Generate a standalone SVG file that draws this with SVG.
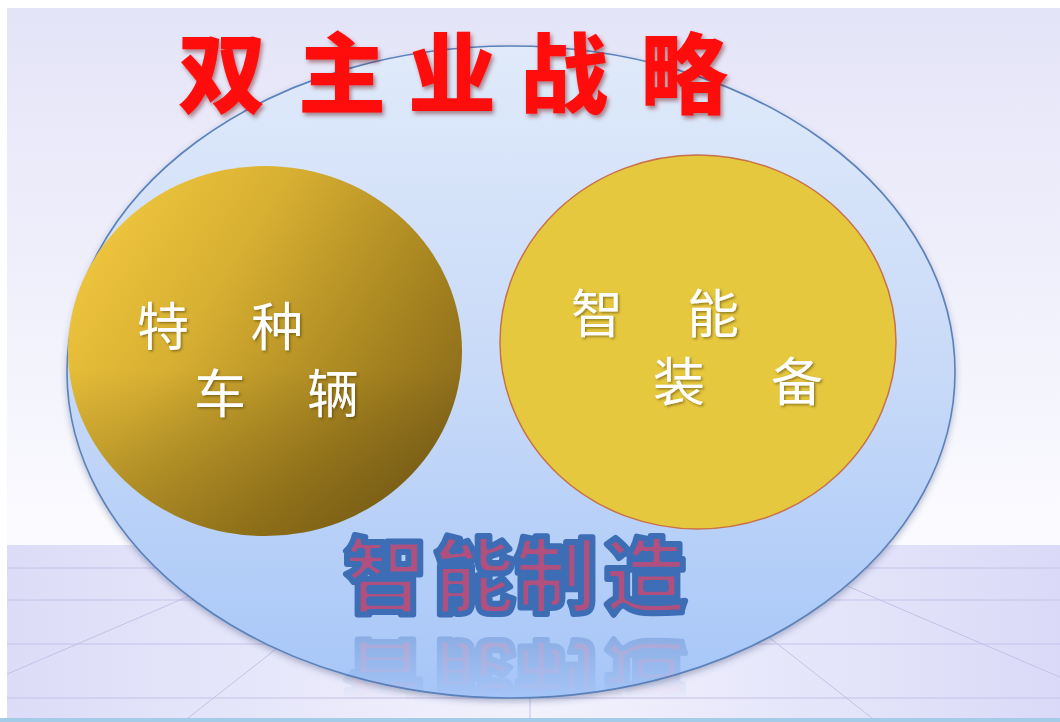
<svg xmlns="http://www.w3.org/2000/svg" width="1060" height="722" viewBox="0 0 1060 722">
<defs>
<linearGradient id="bgTop" x1="0" y1="0" x2="0" y2="1">
<stop offset="0" stop-color="#e4e4f8"/>
<stop offset="1" stop-color="#fbfbff"/>
</linearGradient>
<linearGradient id="floor" x1="0" y1="0" x2="1" y2="0">
<stop offset="0" stop-color="#dcdcf8"/>
<stop offset="0.5" stop-color="#f2f2fd"/>
<stop offset="1" stop-color="#dadaf8"/>
</linearGradient>
<linearGradient id="ell" x1="0" y1="0" x2="0" y2="1">
<stop offset="0" stop-color="#e0eafa"/>
<stop offset="0.5" stop-color="#c8daf8"/>
<stop offset="1" stop-color="#a6c6f8"/>
</linearGradient>
<linearGradient id="gold" x1="0" y1="0.15" x2="1" y2="0.75">
<stop offset="0" stop-color="#f4ca40"/>
<stop offset="0.35" stop-color="#d8b032"/>
<stop offset="0.75" stop-color="#a4821f"/>
<stop offset="1" stop-color="#86681a"/>
</linearGradient>
<linearGradient id="goldShade" x1="0" y1="0" x2="0" y2="1">
<stop offset="0" stop-color="#000" stop-opacity="0"/>
<stop offset="0.55" stop-color="#000" stop-opacity="0"/>
<stop offset="1" stop-color="#3a2800" stop-opacity="0.25"/>
</linearGradient>
<linearGradient id="refl" gradientUnits="userSpaceOnUse" x1="0" y1="636" x2="0" y2="700">
<stop offset="0" stop-color="#fff" stop-opacity="0.3"/>
<stop offset="1" stop-color="#fff" stop-opacity="0"/>
</linearGradient>
<mask id="reflMask" maskUnits="userSpaceOnUse" x="0" y="630" width="1060" height="92">
<rect x="0" y="630" width="1060" height="92" fill="url(#refl)"/>
</mask>
<clipPath id="floorClip"><rect x="7" y="545" width="1053" height="173"/></clipPath>
<filter id="shadow" x="-10%" y="-10%" width="120%" height="125%">
<feDropShadow dx="0" dy="3" stdDeviation="3" flood-color="#304070" flood-opacity="0.35"/>
</filter>
<filter id="txtShadow" x="-10%" y="-10%" width="130%" height="130%">
<feDropShadow dx="1.5" dy="1.5" stdDeviation="1" flood-color="#403000" flood-opacity="0.5"/>
</filter>
<filter id="titleShadow" x="-10%" y="-10%" width="130%" height="130%">
<feDropShadow dx="2" dy="3" stdDeviation="2" flood-color="#600000" flood-opacity="0.45"/>
</filter>
</defs>
<style>
.lbl{font-family:"Noto Sans CJK SC","Noto Sans CJK JP",sans-serif;fill:#ffffff;font-size:52px;}
.title{font-family:"Noto Sans CJK SC",sans-serif;font-weight:900;font-size:88px;fill:#ff0a0a;}
.zn{font-family:"Noto Sans CJK SC",sans-serif;font-weight:900;font-size:82px;fill:#b0507e;stroke:#3d6db5;stroke-width:6;stroke-linejoin:round;}
.grid{stroke:#c8c0e8;stroke-width:1;fill:none;}
</style>

<!-- background -->
<rect x="0" y="0" width="1060" height="722" fill="#ffffff"/>
<rect x="7" y="8" width="1053" height="537" fill="url(#bgTop)"/>
<rect x="7" y="545" width="1053" height="174" fill="url(#floor)"/>
<g class="grid" clip-path="url(#floorClip)">
<line x1="7" y1="568" x2="1060" y2="568"/>
<line x1="7" y1="600" x2="1060" y2="600"/>
<line x1="7" y1="644" x2="1060" y2="644"/>
<line x1="7" y1="698" x2="1060" y2="698"/>
<line x1="530" y1="545" x2="530" y2="720"/>
<line x1="530" y1="450" x2="-100" y2="720"/>
<line x1="530" y1="450" x2="160" y2="740"/>
<line x1="530" y1="450" x2="1160" y2="720"/>
<line x1="530" y1="450" x2="900" y2="740"/>
</g>
<rect x="0" y="718" width="1060" height="4" fill="#a4cce8"/>

<!-- outer ellipse -->
<g id="outer">
<ellipse cx="511" cy="372" rx="444" ry="326" fill="url(#ell)" stroke="#5b82ba" stroke-width="1.6" filter="url(#shadow)"/>
</g>

<!-- title -->
<g id="title" filter="url(#titleShadow)">
<text class="title" x="178" y="106">双</text>
<text class="title" x="298" y="106">主</text>
<text class="title" x="408" y="106">业</text>
<text class="title" x="520" y="106">战</text>
<text class="title" x="640" y="106">略</text>
</g>

<!-- left circle -->
<g id="vehicles">
<ellipse cx="265" cy="351" rx="197" ry="185" fill="url(#gold)"/>
<ellipse cx="265" cy="351" rx="197" ry="185" fill="url(#goldShade)"/>
<g filter="url(#txtShadow)">
<text class="lbl" x="137" y="346">特</text>
<text class="lbl" x="251" y="346">种</text>
<text class="lbl" x="194" y="413">车</text>
<text class="lbl" x="307" y="413">辆</text>
</g>
</g>

<!-- right circle -->
<g id="equipment">
<ellipse cx="698" cy="342" rx="198" ry="187" fill="#e6c83e" stroke="#c8704a" stroke-width="1.5"/>
<g filter="url(#txtShadow)">
<text class="lbl" x="571" y="333">智</text>
<text class="lbl" x="687" y="333">能</text>
<text class="lbl" x="653" y="401">装</text>
<text class="lbl" x="771" y="401">备</text>
</g>
</g>

<!-- bottom label -->
<g id="manufacturing">
<text class="zn" x="385" y="606" text-anchor="middle">智</text>
<text class="zn" x="474" y="606" text-anchor="middle">能</text>
<text class="zn" x="556" y="606" text-anchor="middle">制</text>
<text class="zn" x="645" y="606" text-anchor="middle">造</text>
</g>
<g id="reflection" mask="url(#reflMask)">
<g transform="translate(0,1254) scale(1,-1)">
<text class="zn" x="385" y="606" text-anchor="middle">智</text>
<text class="zn" x="474" y="606" text-anchor="middle">能</text>
<text class="zn" x="556" y="606" text-anchor="middle">制</text>
<text class="zn" x="645" y="606" text-anchor="middle">造</text>
</g>
</g>
</svg>
